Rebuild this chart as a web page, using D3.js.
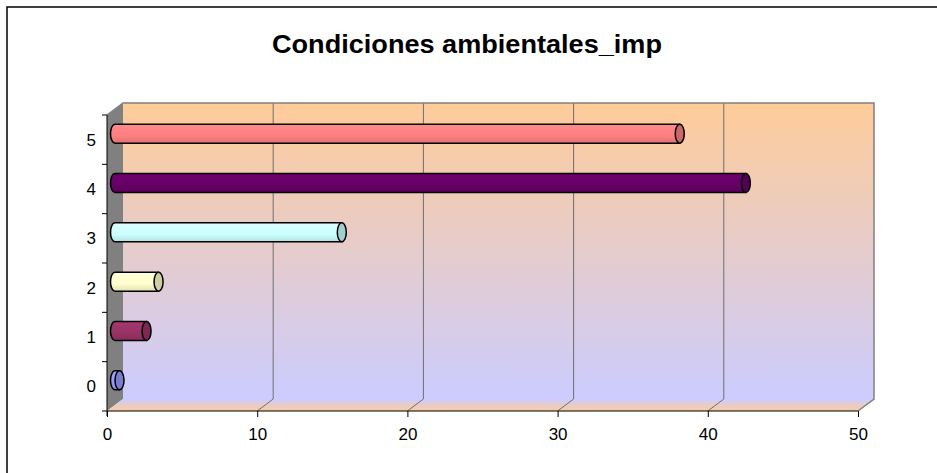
<!DOCTYPE html>
<html><head><meta charset="utf-8">
<script src="https://d3js.org/d3.v7.min.js"></script>
<style>html,body{margin:0;padding:0;background:#fff;}svg{display:block;font-family:"Liberation Sans",Arial,sans-serif;}</style>
</head><body>
<script>
const title = "Condiciones ambientales_imp";
const categories = ["0","1","2","3","4","5"];
const values = [0.3, 2.1, 2.9, 15.1, 42.0, 37.6];
const barColors = ["#9999FF","#993366","#FFFFCC","#CCFFFF","#660066","#FF8080"];
const xTicks = [0,10,20,30,40,50];

const W = 937, H = 473;
const svg = d3.select("body").append("svg").attr("width", W).attr("height", H);
const defs = svg.append("defs");

// frame
svg.append("rect").attr("x",7).attr("y",7).attr("width",W).attr("height",H)
  .attr("fill","#fff").attr("stroke","#000").attr("stroke-width",1.5);

svg.append("text").attr("x",467).attr("y",53).attr("text-anchor","middle")
  .attr("font-size",26).attr("font-weight","bold")
  .attr("textLength",390).attr("lengthAdjust","spacingAndGlyphs").text(title);

const fx0 = 107, fx1 = 858, fyTop = 115, fyBot = 411;
const ddx = 16, ddy = -12;
const x = d3.scaleLinear().domain([0,50]).range([fx0, fx1]);
const y = d3.scaleBand().domain(categories).range([fyBot, fyTop]);

// gradients
const wallG = defs.append("linearGradient").attr("id","wall").attr("x1",0).attr("y1",0).attr("x2",0).attr("y2",1);
wallG.append("stop").attr("offset","0%").attr("stop-color","#FFCC99");
wallG.append("stop").attr("offset","100%").attr("stop-color","#CCCCFF");
const floorG = defs.append("linearGradient").attr("id","floor").attr("x1",0).attr("y1",0).attr("x2",0).attr("y2",1);
floorG.append("stop").attr("offset","0%").attr("stop-color","#CCCCFF");
floorG.append("stop").attr("offset","100%").attr("stop-color","#FFCC99");

// back wall
svg.append("rect").attr("x",fx0+ddx).attr("y",fyTop+ddy).attr("width",fx1-fx0).attr("height",fyBot-fyTop)
  .attr("fill","url(#wall)");
// left wall
svg.append("polygon").attr("points",[[fx0,fyTop],[fx0+ddx,fyTop+ddy],[fx0+ddx,fyBot+ddy],[fx0,fyBot]].join(" "))
  .attr("fill","#808080");
// floor
svg.append("polygon").attr("points",[[fx0,fyBot],[fx0+ddx,fyBot+ddy],[fx1+ddx,fyBot+ddy],[fx1,fyBot]].join(" "))
  .attr("fill","url(#floor)");

// gridlines
xTicks.filter(t => t>0 && t<50).forEach(t => {
  const bx = x(t)+ddx;
  svg.append("path").attr("d",`M${bx},${fyTop+ddy}L${bx},${fyBot+ddy}L${x(t)},${fyBot}`)
    .attr("fill","none").attr("stroke","#6e6e6e").attr("stroke-width",1);
});
// wall borders
svg.append("path").attr("d",`M${fx0},${fyTop}L${fx0+ddx},${fyTop+ddy}L${fx1+ddx},${fyTop+ddy}L${fx1+ddx},${fyBot+ddy}L${fx1},${fyBot}`)
  .attr("fill","none").attr("stroke","#808080").attr("stroke-width",1.5);

// axes
const xAxis = d3.axisBottom(x).tickValues(xTicks).tickSize(6).tickPadding(11);
const gx = svg.append("g").attr("transform",`translate(0,${fyBot})`).call(xAxis);
gx.select(".domain").attr("stroke","#000").attr("d",`M${fx0},0H${fx1}`);
gx.selectAll(".tick line").attr("stroke","#000");
gx.selectAll("text").attr("font-size",17).attr("font-family","Liberation Sans, Arial, sans-serif").attr("fill","#000");

svg.append("line").attr("x1",fx0).attr("x2",fx0).attr("y1",fyTop).attr("y2",fyBot+5).attr("stroke","#000");
const bounds = categories.map(c => y(c)).concat([fyBot]);
bounds.forEach(b => svg.append("line").attr("x1",fx0-5).attr("x2",fx0).attr("y1",b).attr("y2",b).attr("stroke","#000"));
svg.append("g").selectAll("text").data(categories).join("text")
  .attr("x",96).attr("y",d => y(d)+y.bandwidth()/2).attr("dy","0.35em")
  .attr("text-anchor","end").attr("font-size",17).text(d => d);

// bars (cylinders)
const bh = 19, rx = 4.5, ry = bh/2;
categories.forEach((c,i) => {
  const col = d3.color(barColors[i]);
  const g = defs.append("linearGradient").attr("id","bg"+i).attr("x1",0).attr("y1",0).attr("x2",0).attr("y2",1);
  g.append("stop").attr("offset","0%").attr("stop-color",col.brighter(0.25));
  g.append("stop").attr("offset","25%").attr("stop-color",col.brighter(0.1));
  g.append("stop").attr("offset","60%").attr("stop-color",col);
  g.append("stop").attr("offset","100%").attr("stop-color",col.darker(0.35));
  const cy = y(c) + y.bandwidth()/2 + ddy/2;
  const xa = x(0) + ddx/2, xb = x(values[i]) + ddx/2;
  const t = cy - ry, b = cy + ry;
  svg.append("path")
    .attr("d",`M${xa},${t}L${xb},${t}L${xb},${b}L${xa},${b}A${rx},${ry} 0 0 1 ${xa},${t}Z`)
    .attr("fill",`url(#bg${i})`).attr("stroke","#000").attr("stroke-width",1.5);
  svg.append("ellipse").attr("cx",xb).attr("cy",cy).attr("rx",rx).attr("ry",ry)
    .attr("fill",col.darker(0.6)).attr("stroke","#000").attr("stroke-width",1.5);
});
</script>
</body></html>
